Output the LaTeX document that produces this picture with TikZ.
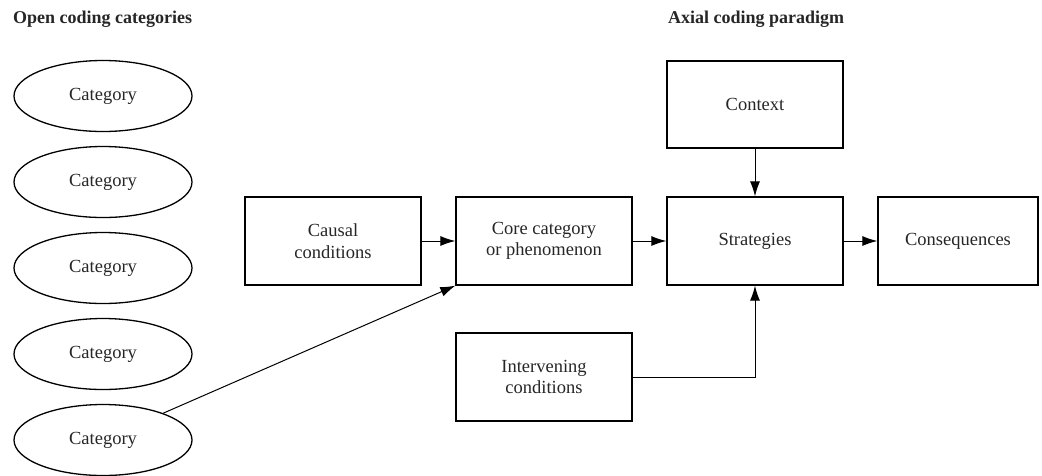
\documentclass[tikz,border=0pt]{standalone}
\usepackage{fontspec}
\setmainfont{Liberation Serif}
\usetikzlibrary{arrows.meta,shapes.geometric}
\tikzset{
  cat/.style={ellipse,draw,line width=1.3pt,minimum width=178pt,minimum height=71pt,inner sep=0pt},
  pbox/.style={rectangle,draw,line width=1.3pt,minimum width=176pt,minimum height=88pt,inner sep=0pt,align=center},
  lbl/.style={font=\fontsize{18.5}{21.6}\selectfont,text=black!85},
  ttl/.style={font=\fontsize{18}{21}\selectfont\bfseries,anchor=west,inner sep=0pt,text=black!85},
  conn/.style={line width=1pt,-{Latex[length=15pt,width=10pt]}},
}
\begin{document}
\begin{tikzpicture}[x=1pt,y=-1pt,every node/.style={lbl}]
\useasboundingbox (0,0) rectangle (1042,475);
\node[ttl] (t1) at (13,19) {Open coding categories};
\node[ttl] (t2) at (668,19) {Axial coding paradigm};
\node[cat] (e1) at (103,96) {Category};
\node[cat] (e2) at (103,182) {Category};
\node[cat] (e3) at (103,268) {Category};
\node[cat] (e4) at (103,354) {Category};
\node[cat] (e5) at (103,440) {Category};
\node[pbox] (cause) at (333,241) {Causal\\conditions};
\node[pbox] (core) at (544,241) {Core category\\or phenomenon};
\node[pbox] (strat) at (755,241) {Strategies};
\node[pbox,minimum height=87pt] (ctx) at (755,104.5) {Context};
\node[pbox,minimum width=160pt] (cons) at (958,241) {Consequences};
\node[pbox] (interv) at (544,377) {Intervening\\conditions};
\coordinate (bend) at (strat.south |- interv.east);
\draw[conn] (cause) -- (core);
\draw[conn] (core) -- (strat);
\draw[conn] (strat) -- (cons);
\draw[conn] (ctx) -- (strat);
\draw[conn] (interv.east) -- (bend) -- (strat.south);
\draw[conn] (e5.24) -- (core.south west);
\end{tikzpicture}
\end{document}
